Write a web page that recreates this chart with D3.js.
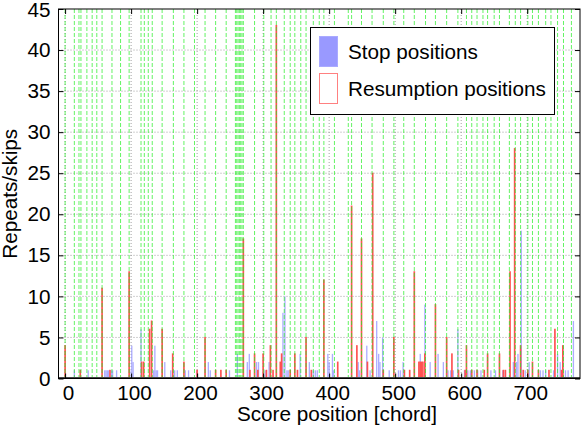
<!DOCTYPE html>
<html><head><meta charset="utf-8">
<script src="https://cdn.jsdelivr.net/npm/d3@7"></script>
<style>
html,body{margin:0;padding:0;background:#fff;}
svg{display:block;font-family:"Liberation Sans",Arial,Helvetica,sans-serif;}
</style></head>
<body><svg id="c" width="581" height="429"></svg>
<script>
// ---- data ----
const stopPositions = [14,35,60,62,64,66,70,72,78,98,101,103,115,134,136,138,140,151,160,163,166,170,182,187,200,217,220,249,261,276,279,290,293,303,309,330,333,336,338,356,370,376,379,382,398,400,405,407,444,446,457,462,472,475,477,481,491,505,508,512,538,545,553,565,573,580,584,588,595,605,610,614,620,625,630,645,652,663,667,679,684,686,691,697,703,720,724,728,740,746,750,754,758,762,770];
const stopCounts    = [1,1,1,1,1,1,1,1,1,1,4,2,6,1,4,1,1,2,1,1,1,1,1,1,1,2,1,1,3,2,3,2,2,1,2,8,10,1,1,3,2,1,1,1,3,2,3,1,2,1,4,1,7,3,2,5,1,1,1,2,3,9,2,3,2,1,1,1,6,1,1,1,1,1,1,1,1,1,1,2,2,3,18,1,2,1,1,1,1,3,2,4,1,1,7];
const resumePositions = [0,23,56,68,97,116,119,128,131,147,163,180,200,212,228,236,244,270,280,287,292,300,305,311,315,320,326,328,341,348,352,365,373,392,413,434,442,449,458,466,482,498,514,522,529,536,538,540,542,545,561,578,586,596,606,608,616,624,635,640,658,664,667,674,681,690,694,701,708,717,733,742,752,754];
const resumeCounts    = [4,1,11,1,13,2,2,6,7,6,3,2,1,5,1,1,1,17,1,3,1,3,1,4,1,43,2,3,1,3,1,5,1,12,2,21,4,17,2,25,1,5,1,1,13,2,2,2,2,3,9,5,3,1,1,4,1,1,1,3,3,1,1,13,28,4,1,1,2,1,1,6,1,4];
const markerPositions = [0,14,21,24,33,41,48,56,71,84,97,115,120,126,132,147,164,180,196,212,228,244,258,260,262,264,266,268,270,287,301,312,320,332,341,348,357,365,376,385,392,408,429,434,449,465,482,498,513,529,546,561,578,595,608,616,624,633,640,650,658,673,682,690,701,708,717,728,736,746,755,767];
const xTicks = [0,100,200,300,400,500,600,700];
const yTicks = [0,5,10,15,20,25,30,35,40,45];
const legendLabels = ["Stop positions","Resumption positions"];
const xTitle = "Score position [chord]";
const yTitle = "Repeats/skips";

// ---- layout ----
const L=58.5, R=580, T=9, B=378.5;
const svg = d3.select("#c");
const x = d3.scaleLinear().domain([-10,780]).range([L,R]);
const y = d3.scaleLinear().domain([0,45]).range([B,T]);

// grid
const g = svg.append("g");
g.selectAll("line.gy").data(yTicks.filter(d=>d>0&&d<45)).join("line")
  .attr("x1",L).attr("x2",R).attr("y1",d=>y(d)).attr("y2",d=>y(d))
  .attr("stroke","#8a8a8a").attr("stroke-width",0.8).attr("stroke-dasharray","1,2");
g.selectAll("line.gx").data(xTicks).join("line")
  .attr("x1",d=>x(d)).attr("x2",d=>x(d)).attr("y1",T).attr("y2",B)
  .attr("stroke","#8a8a8a").attr("stroke-width",0.8).attr("stroke-dasharray","1,2");

// stop bars (blue filled)
const stops = stopPositions.map((p,i)=>({p, v:stopCounts[i]}));
svg.append("g").selectAll("rect").data(stops).join("rect")
  .attr("x",d=>x(d.p-1)).attr("width",d=>x(d.p+1)-x(d.p-1))
  .attr("y",d=>y(d.v)).attr("height",d=>y(0)-y(d.v))
  .attr("fill","#9999ff").attr("fill-opacity",0.8);

// resumption bars (red outline)
const res = resumePositions.map((p,i)=>({p, v:resumeCounts[i]}));
svg.append("g").selectAll("rect").data(res).join("rect")
  .attr("x",d=>x(d.p-0.5)).attr("width",d=>x(d.p+0.5)-x(d.p-0.5))
  .attr("y",d=>y(d.v)).attr("height",d=>y(0)-y(d.v))
  .attr("fill","none").attr("stroke","#ff5050").attr("stroke-width",1);

// green marker lines
svg.append("g").selectAll("line").data(markerPositions).join("line")
  .attr("x1",d=>x(d)).attr("x2",d=>x(d)).attr("y1",T).attr("y2",B)
  .attr("stroke","#22ee22").attr("stroke-opacity",0.7).attr("stroke-width",1)
  .attr("stroke-dasharray","4,2");

// baseline
svg.append("line").attr("x1",L).attr("x2",R).attr("y1",B-0.5).attr("y2",B-0.5)
  .attr("stroke","#444").attr("stroke-width",2);

// axes
const fs = 20.7;
const xa = svg.append("g").attr("transform",`translate(0,${B})`)
  .call(d3.axisBottom(x).tickValues(xTicks).tickSize(-5).tickPadding(7).tickFormat(d3.format("d")));
const ya = svg.append("g").attr("transform",`translate(${L},0)`)
  .call(d3.axisLeft(y).tickValues(yTicks).tickSize(-5).tickPadding(8).tickFormat(d3.format("d")));
const xt = svg.append("g").attr("transform",`translate(0,${T})`)
  .call(d3.axisTop(x).tickValues(xTicks).tickSize(-5).tickFormat(""));
const yr = svg.append("g").attr("transform",`translate(${R},0)`)
  .call(d3.axisRight(y).tickValues(yTicks).tickSize(-5).tickFormat(""));
[xa,ya,xt,yr].forEach(a=>{a.select(".domain").remove();
  a.selectAll("text").attr("font-size",fs).attr("font-family","Liberation Sans,Arial,sans-serif").attr("fill","#000");
  a.selectAll("line").attr("stroke","#000");});
xa.selectAll("text").attr("dx",3);
ya.selectAll("text").filter(d=>d===45).attr("dy","0.36em");

svg.append("rect").attr("x",L).attr("y",T).attr("width",R-L).attr("height",B-T)
  .attr("fill","none").attr("stroke","#000").attr("stroke-width",1);

// titles
svg.append("text").attr("x",337).attr("y",421).attr("text-anchor","middle")
  .attr("font-size",fs).text(xTitle);
svg.append("text").attr("transform",`translate(17,${(T+B)/2}) rotate(-90)`)
  .attr("text-anchor","middle").attr("font-size",fs).text(yTitle);

// legend
const lg = svg.append("g");
lg.append("rect").attr("x",310.5).attr("y",27.5).attr("width",244).attr("height",87)
  .attr("fill","#fff").attr("stroke","#000").attr("stroke-width",1);
lg.append("rect").attr("x",319.5).attr("y",36.5).attr("width",18).attr("height",30)
  .attr("fill","#9999ff").attr("stroke","#aaaaff");
lg.append("rect").attr("x",319.5).attr("y",73.5).attr("width",18).attr("height",30)
  .attr("fill","#fff").attr("stroke","#ff8080");
lg.selectAll("text").data(legendLabels).join("text")
  .attr("x",348).attr("y",(d,i)=>59+i*37).attr("font-size",fs).text(d=>d);
</script></body></html>
